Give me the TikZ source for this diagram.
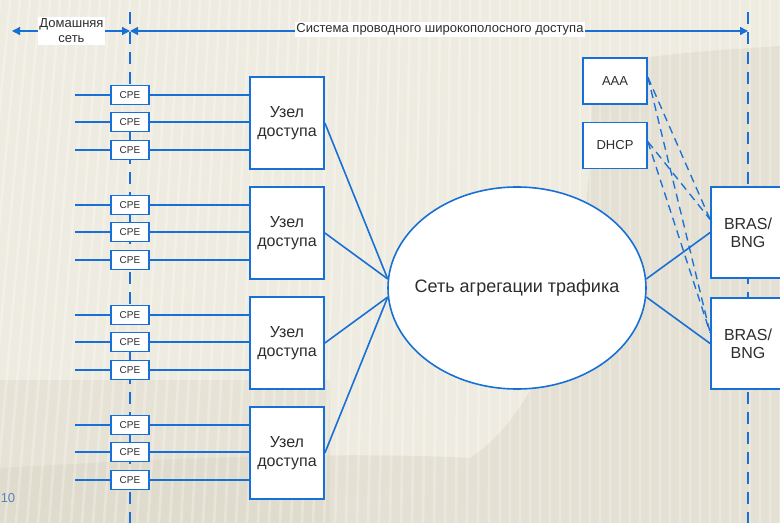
\documentclass[tikz,border=0pt]{standalone}
\usepackage{fontspec}
\setmainfont{Liberation Sans}
\usetikzlibrary{arrows.meta,calc,shapes.geometric}
\definecolor{netblue}{RGB}{24,112,214}
\definecolor{ink}{RGB}{45,45,45}
\definecolor{paperlight}{RGB}{238,236,225}
\definecolor{paperdark}{RGB}{216,211,195}
\definecolor{pagenum}{RGB}{95,130,185}

\begin{document}
\begin{tikzpicture}[x=0.75pt,y=-0.75pt,
  box/.style={draw=netblue, line width=1.3pt, fill=white, text=ink, align=center, inner sep=0pt},
  cpe/.style={box, minimum width=28.5pt, minimum height=14.25pt, font=\fontsize{7.5}{9}\selectfont},
  accessnode/.style={box, minimum width=55.5pt, minimum height=69pt, font=\fontsize{12}{14}\selectfont},
  broker/.style={box, minimum width=55.5pt, minimum height=68.25pt, font=\fontsize{12}{13.5}\selectfont},
  server/.style={box, minimum width=48pt, minimum height=34.5pt, font=\fontsize{9.75}{11}\selectfont},
  link/.style={draw=netblue, line width=1.2pt},
  guide/.style={draw=netblue, line width=1.1pt, dash pattern=on 9pt off 6pt},
  auxlink/.style={draw=netblue, line width=1pt, dash pattern=on 6pt off 4pt},
  span/.style={draw=netblue, line width=1pt,
    {Triangle[length=6pt,width=6pt]}-{Triangle[length=6pt,width=6pt]}},
  tag/.style={fill=white, text=ink, inner xsep=1pt, inner ysep=1.5pt, align=center,
    font=\fontsize{9.75}{11.25}\selectfont}
]
\useasboundingbox (0,0) rectangle (780,523);

% paper background with soft stripes
\fill[paperlight] (0,0) rectangle (780,523);
\fill[paperdark, opacity=0.45]
  (590,64) .. controls (690,52) .. (780,46) -- (780,523) -- (0,523) -- (0,468)
  .. controls (200,456) and (360,452) .. (470,458)
  .. controls (560,400) and (600,220) .. (590,64) -- cycle;
\fill[paperdark, opacity=0.35] (0,380) rectangle (330,523);
\foreach \k in {0,...,85}
  \draw[white, opacity=0.25, line width=2pt]
    ({\k*10},0) -- ({\k*10-50*max(0,1-\k/50)},523);

% boundary guides
\coordinate (gl-top) at (130,12);
\coordinate (gl-bot) at (130,523);
\coordinate (gr-top) at (748,12);
\coordinate (gr-bot) at (748,523);
\draw[guide] (gl-top) -- (gl-bot);
\draw[guide] (gr-top) -- (gr-bot);

% spans along the top
\coordinate (h-left) at (12,31);
\coordinate (h-mid) at (130,31);
\coordinate (h-right) at (748,31);
\draw[span] (h-left) -- (h-mid);
\draw[span] (h-mid) -- (h-right);
\node[tag] (home) at (71.5,31) {Домашняя\\сеть};
\node[tag] (wired) at (440,29.5) {Система проводного широкополосного доступа};

% customer premises and access nodes
\foreach \g/\y in {1/95,2/205,3/315,4/425} {
  \node[accessnode] (u\g) at (287,\y+28) {Узел\\доступа};
  \foreach \r/\d in {1/0,2/27,3/55} {
    \node[cpe] (c\g-\r) at (130,\y+\d) {CPE};
    \coordinate (s\g-\r) at (75,\y+\d);
    \draw[link] (s\g-\r) -- (c\g-\r.west);
    \draw[link] (c\g-\r.east) -- (c\g-\r.east -| u\g.west);
  }
}

% aggregation network
\node[ellipse, draw=netblue, line width=1.2pt, fill=white, minimum width=193.5pt,
  minimum height=151.5pt, inner sep=0pt, text=ink,
  font=\fontsize{13.5}{16}\selectfont] (agg) at (517,288)
  {\makebox[0pt]{Сеть агрегации трафика}};

\draw[link] (u1.east) -- (agg.176);
\draw[link] (u2.east) -- (agg.176);
\draw[link] (u3.east) -- (agg.184);
\draw[link] (u4.east) -- (agg.184);

% broadband remote access servers
\node[broker] (b1) at (748,232.5) {BRAS/\\BNG};
\node[broker] (b2) at (748,343.5) {BRAS/\\BNG};
\draw[link] (agg.4) -- (b1.west);
\draw[link] (agg.-4) -- (b2.west);

% AAA and DHCP servers
\node[server] (aaa) at (615,81) {AAA};
\node[server] (dhcp) at (615,145.5) {DHCP};
\coordinate (aaa-out) at ($(aaa.north east)!0.42!(aaa.south east)$);
\coordinate (dhcp-out) at ($(dhcp.north east)!0.42!(dhcp.south east)$);
\coordinate (b1-in) at ($(b1.north west)!0.36!(b1.south west)$);
\coordinate (b2-in) at ($(b2.north west)!0.385!(b2.south west)$);
\draw[auxlink] (aaa-out) -- (b1-in);
\draw[auxlink] (aaa-out) -- (b2-in);
\draw[auxlink] (dhcp-out) -- (b1-in);
\draw[auxlink] (dhcp-out) -- (b2-in);

% slide number
\node[anchor=west, inner sep=0pt, text=pagenum, font=\fontsize{9.75}{11}\selectfont]
  (pnum) at (0.5,498) {10};
\end{tikzpicture}
\end{document}
